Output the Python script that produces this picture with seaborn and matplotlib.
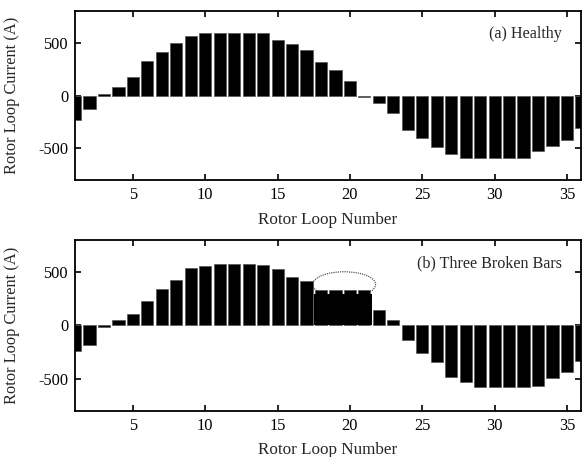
import numpy as np
import pandas as pd
import matplotlib
matplotlib.use("Agg")
import matplotlib.pyplot as plt
from matplotlib.patches import Ellipse
import seaborn as sns

# Rotor loop currents (A) for loops 1..36
loops = list(range(1, 37))
healthy = [-230, -132, 10, 79, 176, 330, 412, 497, 566, 594,
           594, 594, 594, 594, 528, 487, 431, 321, 242, 142,
           -10, -69, -167, -324, -399, -487, -557, -588, -588, -588,
           -588, -588, -525, -478, -425, -308]
broken = [-241, -181, -15, 48, 102, 225, 340, 429, 537, 559,
          571, 571, 571, 562, 524, 457, 416, 327, 327, 327,
          327, 146, 51, -137, -257, -346, -479, -527, -581, -581,
          -581, -581, -568, -489, -432, -336]
# loops adjacent to the broken bars form a joined block
joined_loops = [18, 19, 20, 21]
joined_level = [295, 295, 295, 295]

panel_titles = ["(a) Healthy", "(b) Three Broken Bars"]
x_ticks = [5, 10, 15, 20, 25, 30, 35]
y_ticks = [-500, 0, 500]

sns.set_theme(style="ticks")
plt.rcParams["font.family"] = ["Liberation Serif", "DejaVu Serif"]
plt.rcParams["axes.unicode_minus"] = False

fig = plt.figure(figsize=(5.82, 4.57), dpi=100)
ax_a = fig.add_axes([0.129, 0.606, 0.870, 0.370])
ax_b = fig.add_axes([0.129, 0.101, 0.870, 0.374])

df_a = pd.DataFrame({"loop": loops, "current": healthy})
df_b = pd.DataFrame({"loop": loops, "current": broken})
df_join = pd.DataFrame({"loop": joined_loops, "current": joined_level})

bar_kw = dict(color="black", edgecolor="#555555", linewidth=0.5,
              saturation=1, native_scale=True, width=0.84, errorbar=None)

sns.barplot(data=df_a, x="loop", y="current", ax=ax_a, **bar_kw)
sns.barplot(data=df_b, x="loop", y="current", ax=ax_b, **bar_kw)
sns.barplot(data=df_join, x="loop", y="current", ax=ax_b, color="black",
            linewidth=0, saturation=1, native_scale=True, width=1.0,
            errorbar=None)

# dotted ring around the broken-bar loops
ax_b.add_patch(Ellipse((19.6, 383), 4.35, 238, fill=False, ls=(0, (1, 1)),
                       lw=0.8, ec="#333333", zorder=0.5))

xlabel_y = [-0.189, -0.181]
for ax, title, ly in zip([ax_a, ax_b], panel_titles, xlabel_y):
    ax.set_xlim(1, 36)
    ax.set_ylim(-800, 800)
    ax.set_xticks(x_ticks)
    ax.set_yticks(y_ticks)
    ax.tick_params(direction="in", top=True, right=True, length=4,
                   width=1.2, labelsize=11.8, colors="black", pad=5)
    for sp in ax.spines.values():
        sp.set_visible(True)
        sp.set_linewidth(1.3)
        sp.set_color("black")
    ax.set_xlabel("Rotor Loop Number", fontsize=12.3)
    ax.set_ylabel("Rotor Loop Current (A)", fontsize=11.8)
    ax.xaxis.set_label_coords(0.499, ly)
    ax.yaxis.set_label_coords(-0.108, 0.5)
    ax.text(0.961, 0.864, title, transform=ax.transAxes, ha="right",
            va="center", fontsize=11.6)
    ax.set_facecolor("white")

fig.savefig("out.png", dpi=100, facecolor="white")
